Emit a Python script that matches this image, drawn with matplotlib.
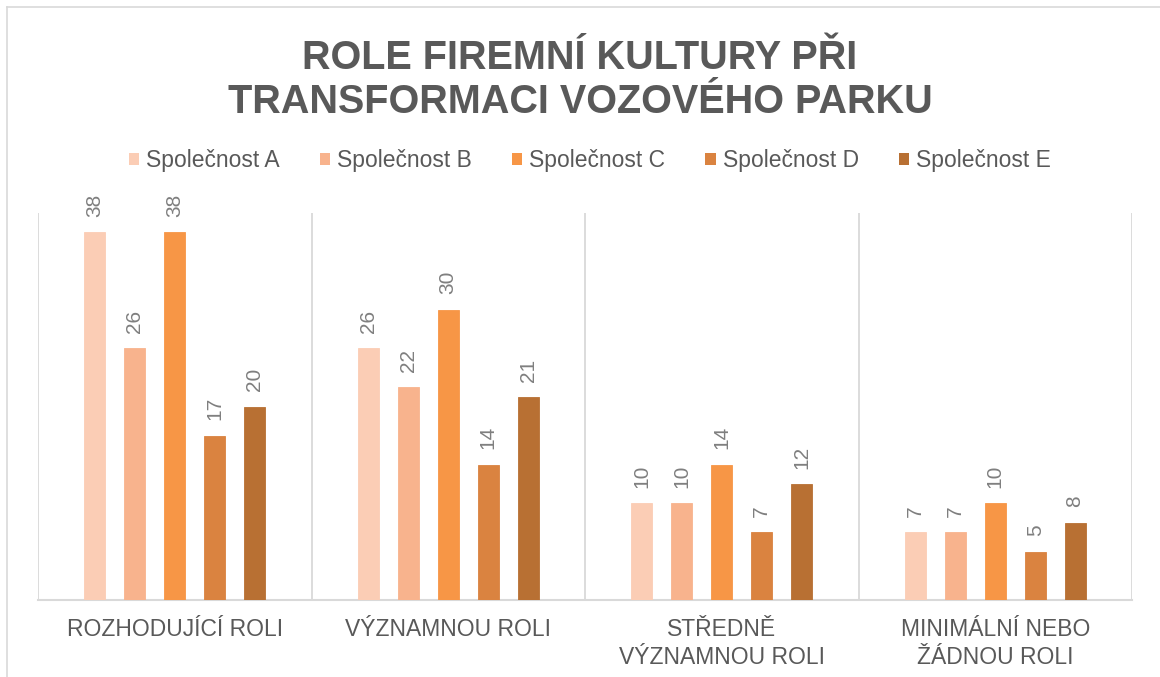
import matplotlib
matplotlib.use("Agg")
import matplotlib.pyplot as plt
import numpy as np
from matplotlib.patches import Patch
from matplotlib.lines import Line2D

plt.rcParams['font.family'] = ['Liberation Sans', 'DejaVu Sans']

# --- data ---
categories = ["ROZHODUJÍCÍ ROLI", "VÝZNAMNOU ROLI", "STŘEDNĚ\nVÝZNAMNOU ROLI", "MINIMÁLNÍ NEBO\nŽÁDNOU ROLI"]
series_names = ["Společnost A", "Společnost B", "Společnost C", "Společnost D", "Společnost E"]
spol_a = [38, 26, 10, 7]
spol_b = [26, 22, 10, 7]
spol_c = [38, 30, 14, 10]
spol_d = [17, 14, 7, 5]
spol_e = [20, 21, 12, 8]
colors = ["#FBCDB5", "#F8B38D", "#F79646", "#DA8340", "#B87033"]

title = "ROLE FIREMNÍ KULTURY PŘI\nTRANSFORMACI VOZOVÉHO PARKU"
text_col = "#595959"
label_col = "#7F7F7F"
grid_col = "#D9D9D9"

fig = plt.figure(figsize=(11.6, 6.77), dpi=100)
ax = fig.add_axes([38/1160, 1 - 600/677, (1132 - 38)/1160, (600 - 213)/677])

x = np.arange(len(categories))
offsets = [-0.292, -0.146, 0.0, 0.146, 0.292]
bar_w = 0.077
values = [spol_a, spol_b, spol_c, spol_d, spol_e]

for vals, off, col, name in zip(values, offsets, colors, series_names):
    bars = ax.bar(x + off, vals, width=bar_w, color=col, edgecolor=col, linewidth=0.6, label=name, zorder=3)
    for b, v in zip(bars, vals):
        ax.annotate(str(v), (b.get_x() + b.get_width()/2, v), xytext=(0, 11),
                    textcoords='offset points', ha='center', va='bottom', rotation=90,
                    fontsize=15, color=label_col)

ax.set_xlim(-0.5, len(categories) - 0.5)
ax.set_ylim(0, 40)
ax.set_yticks([])
ax.set_xticks(x)
ax.set_xticklabels(categories, fontsize=16.5, color=text_col, linespacing=1.3)
ax.tick_params(axis='x', length=0, pad=13)

# category separators
for sep in np.arange(-0.5, len(categories), 1.0):
    ax.axvline(sep, color=grid_col, linewidth=1.3, zorder=1)

for s in ['top', 'right', 'left']:
    ax.spines[s].set_visible(False)
ax.spines['bottom'].set_color(grid_col)
ax.spines['bottom'].set_linewidth(1.5)

# legend
handles = [Patch(facecolor=c, edgecolor='none') for c in colors]
fig.legend(handles, series_names, loc='center', bbox_to_anchor=(590/1160, 1 - 161/677),
           ncol=5, frameon=False, fontsize=16.5, labelcolor=text_col,
           handlelength=0.45, handleheight=0.45, handletextpad=0.3, columnspacing=1.75)

fig.text(0.5, 1 - 80/677, title, ha='center', va='center', fontsize=28.5,
         fontweight='bold', color=text_col, linespacing=1.22)

# outer frame lines (chart border, left and top only visible)
fig.add_artist(Line2D([7/1160, 7/1160], [0, 1 - 7/677], color=grid_col, linewidth=1.2))
fig.add_artist(Line2D([7/1160, 1], [1 - 7/677, 1 - 7/677], color=grid_col, linewidth=1.2))

fig.savefig("out.png", dpi=100, facecolor='white')
